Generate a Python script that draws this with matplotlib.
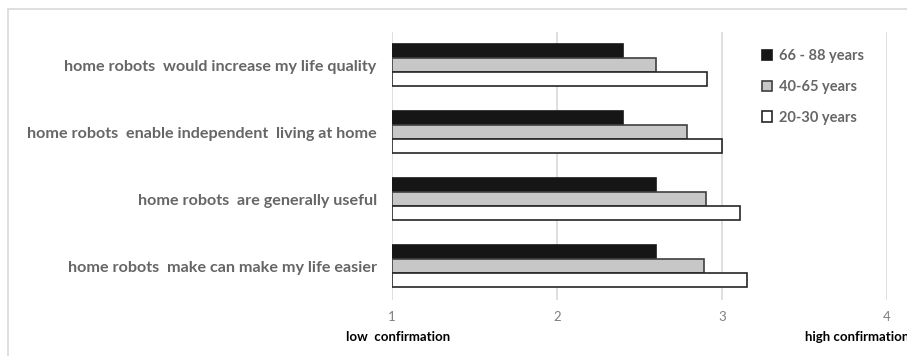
import numpy as np
import matplotlib
matplotlib.use("Agg")
import matplotlib.pyplot as plt
from matplotlib.patches import Rectangle

plt.rcParams['font.family'] = ['Lato', 'DejaVu Sans']

statements = [
    "home robots  would increase my life quality",
    "home robots  enable independent  living at home",
    "home robots  are generally useful",
    "home robots  make can make my life easier",
]
age_groups = ["66 - 88 years", "40-65 years", "20-30 years"]
old = [2.4, 2.4, 2.6, 2.6]
middle = [2.6, 2.79, 2.9, 2.89]
young = [2.91, 3.0, 3.11, 3.15]
ticks = [1, 2, 3, 4]

colors = ["#161616", "#c7c7c7", "#ffffff"]
edges = ["#161616", "#404040", "#262626"]

fig = plt.figure(figsize=(9.07, 3.56), dpi=100)
ax = fig.add_axes([392 / 907, 1 - 300 / 356, 495 / 907, 268.5 / 356])

# outer chart frame
fig.patches.append(Rectangle((7.5 / 907, -0.1), 1.2, 1 - 8.5 / 356 + 0.1,
                             transform=fig.transFigure, fill=False,
                             edgecolor="#d9d9d9", linewidth=1.2))

y = np.arange(len(statements))
h = 0.209
series = [old, middle, young]
for i, vals in enumerate(series):
    ax.barh(y + (i - 1) * h, np.array(vals) - 1, left=1, height=h,
            color=colors[i], edgecolor=edges[i], linewidth=1.2,
            label=age_groups[i], zorder=3)

ax.set_xlim(1, 4)
ax.set_ylim(len(statements) - 0.5, -0.5)
ax.set_xticks(ticks)
ax.set_xticklabels([str(t) for t in ticks], color="#7f7f7f", fontsize=9.5)
ax.tick_params(axis="x", length=0, pad=8)
ax.set_yticks(y)
ax.set_yticklabels(statements, color="#666666", fontsize=11.6, fontweight="bold")
ax.tick_params(axis="y", length=0, pad=11)
ax.grid(axis="x", color="#d9d9d9", linewidth=1.2, zorder=0)
for s in ax.spines.values():
    s.set_visible(False)

fig.text(346 / 907, 1 - 337 / 356, "low  confirmation", fontsize=9.5,
         fontweight="bold", color="#000000", va="center", ha="left")
fig.text(805 / 907, 1 - 337 / 356, "high confirmation", fontsize=9.5,
         fontweight="bold", color="#000000", va="center", ha="left")

ax.legend(loc="upper left", bbox_to_anchor=(749 / 907, 1 - 36 / 356),
          bbox_transform=fig.transFigure, frameon=False,
          labelcolor="#666666", handlelength=0.7, handleheight=0.7,
          handletextpad=0.45, labelspacing=1.15,
          prop={"weight": "bold", "size": 10.5})

fig.savefig("out.png", dpi=100)
